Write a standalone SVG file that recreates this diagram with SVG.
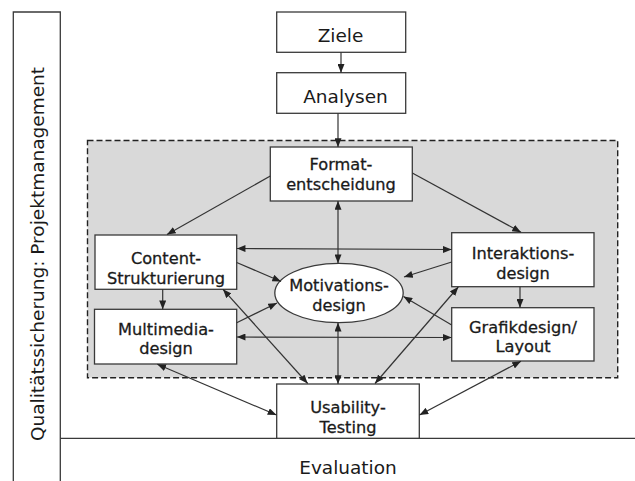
<svg xmlns="http://www.w3.org/2000/svg" width="635" height="481" viewBox="0 0 635 481">
<style>
.box{fill:#fff;stroke:#3a3a3a;stroke-width:1.3}
.frame{fill:none;stroke:#3a3a3a;stroke-width:1.3}
.t{font-family:"DejaVu Sans",Verdana,sans-serif;font-size:16.2px;fill:#1a1a1a;stroke:#1a1a1a;stroke-width:0.3;text-anchor:middle;dominant-baseline:central}
.tl{font-family:"DejaVu Sans",Verdana,sans-serif;font-size:18.5px;fill:#1a1a1a;text-anchor:middle;dominant-baseline:central}
.c line{stroke:#333;stroke-width:1.2;fill:none}
</style>
<defs>
<marker id="ah" viewBox="0 0 10 8" refX="10" refY="4" markerWidth="9" markerHeight="7" markerUnits="userSpaceOnUse" orient="auto-start-reverse">
<path d="M0,0 L10,4 L0,8 z" fill="#222"/>
</marker>
</defs>
<rect width="635" height="481" fill="#fff"/>
<g id="frame">
<path class="frame" d="M13.3,481 V12 H60.3 V481"/>
<line class="frame" x1="60.3" y1="438.3" x2="635" y2="438.3"/>
<text class="tl" transform="translate(37,254) rotate(-90)" font-size="19.6">Qualitätssicherung: Projektmanagement</text>
<text class="tl" x="348" y="467">Evaluation</text>
</g>
<g id="group-box">
<rect x="87.5" y="140.5" width="530.2" height="237.2" fill="#d9d9d9" stroke="#222" stroke-width="1.4" stroke-dasharray="6,3"/>
</g>
<g id="ziele"><rect class="box" x="276.7" y="12" width="129" height="40.3"/><text class="tl" x="340.5" y="35">Ziele</text></g>
<g id="analysen"><rect class="box" x="276.7" y="72.7" width="129" height="40.6"/><text class="tl" x="345.5" y="96">Analysen</text></g>
<g id="format"><rect class="box" x="270.3" y="147" width="142" height="54"/><text class="t" x="341" y="164">Format-</text><text class="t" x="341" y="184">entscheidung</text></g>
<g id="content"><rect class="box" x="95" y="235" width="141.7" height="54.3"/><text class="t" x="166" y="258">Content-</text><text class="t" x="166" y="278">Strukturierung</text></g>
<g id="interaktion"><rect class="box" x="451.7" y="232.7" width="142.3" height="54"/><text class="t" x="523" y="253">Interaktions-</text><text class="t" x="523" y="273">design</text></g>
<g id="motivation"><ellipse cx="339" cy="293" rx="64.2" ry="29.7" fill="#fff" stroke="#3a3a3a" stroke-width="1.3"/><text class="t" x="339" y="285">Motivations-</text><text class="t" x="339" y="305">design</text></g>
<g id="multimedia"><rect class="box" x="94.5" y="309.3" width="142.2" height="54.7"/><text class="t" x="166" y="329">Multimedia-</text><text class="t" x="166" y="348">design</text></g>
<g id="grafik"><rect class="box" x="451.7" y="307.7" width="142.3" height="53.3"/><text class="t" x="523" y="327">Grafikdesign/</text><text class="t" x="523" y="346">Layout</text></g>
<g id="usability"><rect class="box" x="276.7" y="384" width="142.6" height="54.3"/><text class="t" x="348" y="407">Usability-</text><text class="t" x="348" y="427">Testing</text></g>
<g class="c" id="connectors">
<line x1="341" y1="52.3" x2="341" y2="72.7" marker-end="url(#ah)"/>
<line x1="338" y1="113.3" x2="338" y2="147" marker-end="url(#ah)"/>
<line x1="270.3" y1="176" x2="167" y2="234.5" marker-end="url(#ah)"/>
<line x1="412.3" y1="173" x2="521" y2="232.2" marker-end="url(#ah)"/>
<line x1="338" y1="201" x2="338" y2="263.3" marker-start="url(#ah)" marker-end="url(#ah)"/>
<line x1="236.7" y1="248.5" x2="451.7" y2="249.5" marker-start="url(#ah)" marker-end="url(#ah)"/>
<line x1="236.7" y1="262.5" x2="281" y2="281.5" marker-end="url(#ah)"/>
<line x1="451.7" y1="262" x2="404" y2="277" marker-end="url(#ah)"/>
<line x1="162.7" y1="289.3" x2="162.7" y2="309.3" marker-end="url(#ah)"/>
<line x1="520" y1="286.7" x2="520" y2="307.7" marker-end="url(#ah)"/>
<line x1="236.7" y1="322.7" x2="277" y2="303" marker-end="url(#ah)"/>
<line x1="451.7" y1="325" x2="403.5" y2="296.5" marker-end="url(#ah)"/>
<line x1="236.7" y1="337" x2="451.7" y2="337.5" marker-start="url(#ah)" marker-end="url(#ah)"/>
<line x1="338" y1="322.7" x2="338" y2="384" marker-start="url(#ah)" marker-end="url(#ah)"/>
<line x1="223" y1="289.3" x2="307.7" y2="383.5" marker-start="url(#ah)" marker-end="url(#ah)"/>
<line x1="458.3" y1="287" x2="375" y2="383.5" marker-start="url(#ah)" marker-end="url(#ah)"/>
<line x1="157.3" y1="364.3" x2="276.5" y2="415" marker-start="url(#ah)" marker-end="url(#ah)"/>
<line x1="521" y1="361.2" x2="419.5" y2="415" marker-start="url(#ah)" marker-end="url(#ah)"/>
</g>
</svg>
